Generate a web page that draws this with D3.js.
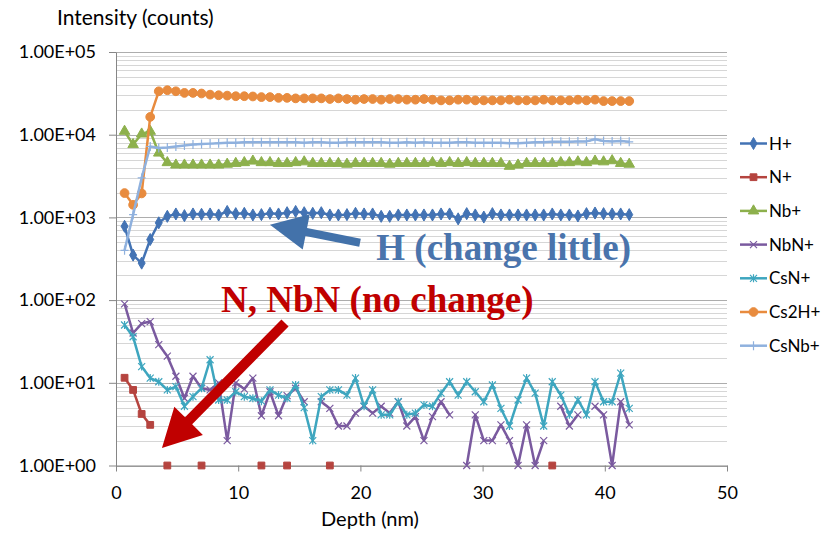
<!DOCTYPE html>
<html><head><meta charset="utf-8">
<script src="https://cdn.jsdelivr.net/npm/d3@7"></script>
<style>body{margin:0;background:#fff} svg{display:block}</style>
</head><body><svg id="chart" width="836" height="536"></svg>
<script>
// ---------- data ----------
const depth = [0.7,1.4,2.1,2.8,3.5,4.2,4.9,5.6,6.3,7.0,7.7,8.4,9.1,9.8,10.5,11.2,11.9,12.6,13.3,14.0,
  14.7,15.4,16.1,16.8,17.5,18.2,18.9,19.6,20.3,21.0,21.7,22.4,23.1,23.8,24.5,25.2,25.9,26.6,27.3,28.0,
  28.7,29.4,30.1,30.8,31.5,32.2,32.9,33.6,34.3,35.0,35.7,36.4,37.1,37.8,38.5,39.2,39.9,40.6,41.3,42.0];
const seriesNames = ["H+","N+","Nb+","NbN+","CsN+","Cs2H+","CsNb+"];
const hPlus = [780,350,280,540,860,1030,1100,1050,1100,1090,1100,1070,1180,1110,1120,1070,1080,1120,1100,1140,
  1180,1140,1120,1140,1070,1070,1080,1120,1100,1100,1030,1030,1070,1070,1070,1070,1070,1100,1100,960,
  1110,1070,1010,1110,1070,1070,1070,1070,1070,1070,1100,1070,1070,1040,1110,1130,1110,1100,1100,1080];
const nPlus = [11.5,8.2,4.2,3.1,null,1,null,null,null,1,null,null,null,null,null,null,1,null,null,1,
  null,null,null,null,1,null,null,null,null,null,null,null,null,null,null,null,null,null,null,null,
  null,null,null,null,null,null,null,null,null,null,1,null,null,null,null,null,null,null,null,null];
const nbPlus = [11000,7600,10200,11000,6000,4600,4300,4300,4300,4300,4300,4300,4400,4500,4600,4800,4600,4600,4500,4500,
  4600,4700,4500,4500,4500,4500,4400,4500,4500,4500,4500,4400,4500,4500,4500,4500,4600,4500,4600,4500,
  4600,4500,4500,4500,4500,4150,4300,4500,4500,4500,4500,4600,4600,4700,4600,4800,4700,4850,4500,4400];
const nbnPlus = [90,40,52,55,29,21,12,6.5,12,8.6,8.2,10,2,10,8.4,11.4,4,7.8,4,7,
  8.6,5.9,null,5.9,4.9,3,3,4.3,5.2,4.3,5.2,4.3,5.9,3,3.9,2,3.9,5.9,4.1,null,
  1,4.1,2,2,3.1,2,1,3.1,1,2,null,5.2,3,4.1,null,5.2,4.1,1,5.9,3.1];
const csnPlus = [50,36,15.7,11.4,10.3,8.2,9.0,5.2,6.8,8.6,19,6.2,6.2,7.8,6.8,6.5,6.0,8.2,7.1,6.5,
  9.4,5.0,2.0,6.8,8.2,8.2,7.1,11.4,5.2,8.2,4.1,4.1,5.9,4.1,4.3,5.4,5.2,7.5,10.3,7.1,
  10.3,7.8,5.9,9.4,4.9,3.0,6.2,11.4,7.5,3.0,10.3,7.1,4.1,6.2,4.1,10.3,5.9,5.9,13.1,4.9];
const cs2hPlus = [1970,1420,1950,16400,33500,34500,33500,32000,32000,31500,30500,30000,29700,29200,29200,29000,28500,28500,27900,27900,
  27500,27500,27500,27500,27000,27500,27000,26500,27000,27000,26500,27000,27000,26500,26500,27000,26500,26000,26000,26500,
  26500,26000,26000,26000,26000,26500,26000,26000,26000,26500,26000,26000,26000,26500,26000,26500,25500,25500,25500,25500];
const csnbPlus = [400,1080,3000,7200,6900,7000,7200,7400,7600,7700,7800,7900,8000,8000,8100,8100,8100,8100,8100,8100,
  8100,8000,8100,8100,8000,8000,8100,8100,8100,8100,8100,8000,8000,8100,8000,8100,8000,8000,8000,8100,
  8100,8000,8000,8000,8000,7900,7900,8000,8100,8100,8200,8200,8200,8300,8300,8800,8400,8300,8400,8200];
const seriesValues = [hPlus,nPlus,nbPlus,nbnPlus,csnPlus,cs2hPlus,csnbPlus];
const seriesColors = ["#4373b4","#b5443f","#8db04c","#7a5a9f","#3ea6bf","#e88b3e","#8fb1de"];
const seriesMarkers = ["diamond","square","triangle","x","asterisk","circle","plus"];
const xTicks = [0,10,20,30,40,50];
const yTicks = [1,10,100,1000,10000,100000];
const yTickLabels = ["1.00E+00","1.00E+01","1.00E+02","1.00E+03","1.00E+04","1.00E+05"];
const annoTexts = ["H (change little)","N, NbN (no change)"];

// ---------- layout ----------
const FONT = "Lato, 'Liberation Sans', sans-serif";
const svg = d3.select("#chart");
const x = d3.scaleLinear().domain([0,50]).range([116,727]);
const y = d3.scaleLog().domain([1,100000]).range([465.5,52]);

// gridlines
const minor = [];
yTicks.slice(0,-1).forEach(d => { for (let m=2;m<=9;m++) minor.push(d*m); });
const grid = svg.append("g");
grid.selectAll("line.minor").data(minor).join("line").attr("class","minor")
  .attr("x1",x(0)).attr("x2",x(50)).attr("y1",d=>Math.round(y(d))+0.5).attr("y2",d=>Math.round(y(d))+0.5)
  .attr("stroke","#d6d6d6").attr("stroke-width",1);
grid.selectAll("line.major").data(yTicks).join("line").attr("class","major")
  .attr("x1",x(0)).attr("x2",x(50)).attr("y1",d=>Math.round(y(d))+0.5).attr("y2",d=>Math.round(y(d))+0.5)
  .attr("stroke","#adadad").attr("stroke-width",1);

// axes
const yAxis = svg.append("g").attr("transform",`translate(${x(0)},0)`)
  .call(d3.axisLeft(y).tickValues(yTicks).tickFormat((d,i)=>yTickLabels[i]).tickSize(7).tickSizeOuter(0).tickPadding(13));
const xAxis = svg.append("g").attr("transform",`translate(0,${y(1)})`)
  .call(d3.axisBottom(x).tickValues(xTicks).tickSize(6).tickSizeOuter(0).tickPadding(15));
[yAxis,xAxis].forEach(a=>{
  a.select(".domain").attr("stroke","#868686");
  a.selectAll(".tick line").attr("stroke","#868686");
  a.selectAll(".tick text").attr("font-family",FONT).attr("font-size",18).attr("fill","#000");
});

svg.append("text").attr("x",57).attr("y",25).attr("font-family",FONT).attr("font-size",21).text("Intensity (counts)");
svg.append("text").attr("x",370).attr("y",526).attr("text-anchor","middle").attr("font-family",FONT).attr("font-size",20).text("Depth (nm)");

// markers
function markerPath(type){
  switch(type){
    case "diamond": return d3.symbol(d3.symbolDiamond,42)();
    case "square": return d3.symbol(d3.symbolSquare,46)();
    case "triangle": return d3.symbol(d3.symbolTriangle,48)();
    case "circle": return d3.symbol(d3.symbolCircle,60)();
    case "x": return "M-3.5,-3.5L3.5,3.5M-3.5,3.5L3.5,-3.5";
    case "asterisk": return "M-3.5,-3.5L3.5,3.5M-3.5,3.5L3.5,-3.5M0,-4L0,4";
    case "plus": return "M-4,0L4,0M0,-4.5L0,4.5";
  }
}
function drawMarker(sel, type, color){
  const open = (type==="x"||type==="asterisk"||type==="plus");
  sel.attr("d",markerPath(type))
    .attr("fill",open?"none":color)
    .attr("stroke",color).attr("stroke-width",open?1.2:1);
}

const line = d3.line().defined(d=>d.v!=null).x(d=>x(d.x)).y(d=>y(d.v));
const plot = svg.append("g");
seriesNames.forEach((name,i)=>{
  const pts = depth.map((dx,j)=>({x:dx,v:seriesValues[i][j]}));
  const g = plot.append("g");
  g.append("path").datum(pts).attr("d",line).attr("fill","none")
    .attr("stroke",seriesColors[i]).attr("stroke-width",2.5).attr("stroke-linejoin","round");
  g.selectAll("path.m").data(pts.filter(p=>p.v!=null)).join("path").attr("class","m")
    .attr("transform",p=>`translate(${x(p.x)},${y(p.v)})`)
    .call(s=>drawMarker(s,seriesMarkers[i],seriesColors[i]));
});

// legend
const leg = svg.append("g");
seriesNames.forEach((name,i)=>{
  const ly = 143.5 + i*33.7;
  leg.append("line").attr("x1",740).attr("x2",767).attr("y1",ly).attr("y2",ly)
    .attr("stroke",seriesColors[i]).attr("stroke-width",2.5);
  leg.append("path").attr("transform",`translate(753.5,${ly})`).call(s=>drawMarker(s,seriesMarkers[i],seriesColors[i]));
  leg.append("text").attr("x",769).attr("y",ly).attr("dy","0.36em").attr("font-family",FONT).attr("font-size",17).text(name);
});

// annotations (positioned in data coordinates)
function arrow(tail, tip, shaftW, headL, headW, color){
  const t0=[x(tail[0]),y(tail[1])], t1=[x(tip[0]),y(tip[1])];
  const dx=t1[0]-t0[0], dy=t1[1]-t0[1], L=Math.hypot(dx,dy);
  const ux=dx/L, uy=dy/L, nx=-uy, ny=ux;
  const b=[t1[0]-ux*headL, t1[1]-uy*headL];
  const pts=[[t0[0]+nx*shaftW/2,t0[1]+ny*shaftW/2],[b[0]+nx*shaftW/2,b[1]+ny*shaftW/2],[b[0]+nx*headW/2,b[1]+ny*headW/2],
    t1,[b[0]-nx*headW/2,b[1]-ny*headW/2],[b[0]-nx*shaftW/2,b[1]-ny*shaftW/2],[t0[0]-nx*shaftW/2,t0[1]-ny*shaftW/2]];
  svg.append("polygon").attr("points",pts.map(p=>p.join(",")).join(" ")).attr("fill",color);
}
arrow([19.97,494],[12.6,816],8,37,36,"#4372aa");
arrow([13.83,53],[3.76,1.63],10,38,40,"#c00000");
svg.append("text").attr("x",x(21.3)).attr("y",y(307)).attr("font-family","'Liberation Serif','Times New Roman',serif")
  .attr("font-weight","bold").attr("font-size",37).attr("fill","#4a74ac").text(annoTexts[0]);
svg.append("text").attr("x",x(8.6)).attr("y",y(72)).attr("font-family","'Liberation Serif','Times New Roman',serif")
  .attr("font-weight","bold").attr("font-size",37).attr("fill","#c00000").text(annoTexts[1]);
</script></body></html>
